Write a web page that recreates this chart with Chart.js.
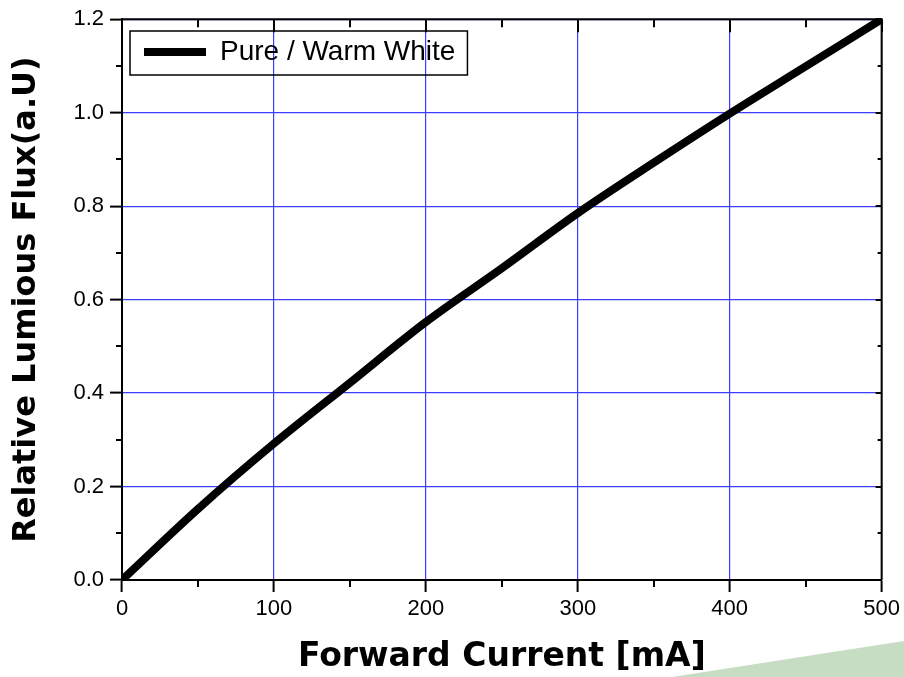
<!DOCTYPE html>
<html>
<head>
<meta charset="utf-8">
<script src="https://cdn.jsdelivr.net/npm/chart.js@4.4.1/dist/chart.umd.min.js"></script>
<style>
  html, body { margin: 0; padding: 0; background: #fff; }
  #wrap { width: 904px; height: 677px; position: relative; }
</style>
</head>
<body>
<div id="wrap"><canvas id="chartFlux"></canvas></div>
<script>
// Datos
const corriente = [0, 50, 100, 150, 200, 250, 300, 350, 400, 450, 500];
const flujo = [0, 0.152, 0.292, 0.422, 0.552, 0.667, 0.785, 0.893, 0.998, 1.099, 1.2];
const serieNombre = 'Pure / Warm White';
const tituloX = 'Forward Current [mA]';
const tituloY = 'Relative Lumious Flux(a.U)';

const azulGrid = 'rgb(60,60,255)';

// Marco superior/derecho, ticks menores y caja de la leyenda
const marcoPlugin = {
    id: 'marco',
    beforeDraw(chart) {
        // adorno verde de la esquina
        const ctx = chart.ctx;
        ctx.save();
        ctx.fillStyle = '#c6dcc3';
        ctx.beginPath();
        ctx.moveTo(672, 677);
        ctx.lineTo(904, 641);
        ctx.lineTo(904, 677);
        ctx.closePath();
        ctx.fill();
        ctx.restore();
    },
    afterDraw(chart) {
        const { ctx, chartArea: a, scales: { x, y } } = chart;
        ctx.save();
        ctx.strokeStyle = '#000';
        ctx.lineWidth = 2;
        ctx.beginPath();
        ctx.moveTo(a.left, a.top);
        ctx.lineTo(a.right, a.top);
        ctx.lineTo(a.right, a.bottom);
        ctx.stroke();

        ctx.beginPath();
        for (let v = 0; v <= 500; v += 50) {
            const px = Math.round(x.getPixelForValue(v));
            const mayor = v % 100 === 0;
            ctx.moveTo(px, a.top);
            ctx.lineTo(px, a.top + (mayor ? 13 : 8));
            if (!mayor) {
                ctx.moveTo(px, a.bottom);
                ctx.lineTo(px, a.bottom + 7);
            }
        }
        for (let i = 0; i <= 12; i++) {
            const py = Math.round(y.getPixelForValue(i / 10));
            const mayor = i % 2 === 0;
            if (!mayor) {
                ctx.moveTo(a.left, py);
                ctx.lineTo(a.left - 6, py);
            }
            ctx.moveTo(a.right, py);
            ctx.lineTo(a.right - (mayor ? 6 : 4), py);
        }
        ctx.stroke();

        const hb = chart.legend.legendHitBoxes[0];
        if (hb) {
            ctx.lineWidth = 1.5;
            ctx.strokeRect(hb.left - 14, hb.top - 7, hb.width + 26, hb.height + 16);
        }
        ctx.restore();
    }
};

Chart.defaults.font.family = '"Liberation Sans", Arial, sans-serif';
Chart.defaults.color = '#000';

const ctx = document.getElementById('chartFlux').getContext('2d');
new Chart(ctx, {
    type: 'line',
    data: {
        datasets: [{
            label: serieNombre,
            data: corriente.map((c, i) => ({ x: c, y: flujo[i] })),
            borderColor: '#000',
            backgroundColor: '#000',
            borderWidth: 8,
            borderCapStyle: 'round',
            borderJoinStyle: 'round',
            pointRadius: 0,
            cubicInterpolationMode: 'monotone'
        }]
    },
    options: {
        responsive: true,
        maintainAspectRatio: false,
        animation: false,
        layout: { padding: { top: 16, right: 20, left: 0, bottom: 0 } },
        scales: {
            x: {
                type: 'linear',
                min: 0,
                max: 500,
                ticks: { stepSize: 100, font: { size: 22 }, padding: 4, maxRotation: 0 },
                grid: { color: azulGrid, lineWidth: 1.2, tickColor: '#000', tickLength: 12, tickWidth: 2 },
                border: { color: '#000', width: 2 },
                title: {
                    display: true,
                    text: tituloX,
                    font: { family: '"DejaVu Sans", Verdana, sans-serif', size: 33, weight: 'bold' },
                    padding: { top: 0, bottom: 0 }
                },
                afterFit(scale) { scale.height = 97; }
            },
            y: {
                min: 0,
                max: 1.2,
                ticks: {
                    stepSize: 0.2,
                    font: { size: 22 },
                    padding: 6,
                    callback: v => v.toFixed(1)
                },
                grid: { color: azulGrid, lineWidth: 1.2, tickColor: '#000', tickLength: 12, tickWidth: 2 },
                border: { color: '#000', width: 2 },
                title: {
                    display: true,
                    text: tituloY,
                    font: { family: '"DejaVu Sans", Verdana, sans-serif', size: 32, weight: 'bold' },
                    padding: { top: 7, bottom: 0 }
                },
                afterFit(scale) { scale.width = 122; }
            }
        },
        plugins: {
            legend: {
                position: 'chartArea',
                align: 'start',
                // título vacío: solo empuja la leyenda hacia abajo
                title: { display: true, text: '', font: { size: 1, lineHeight: 1 }, padding: { top: 15, bottom: 0 } },
                labels: {
                    usePointStyle: true,
                    pointStyle: 'line',
                    pointStyleWidth: 62,
                    padding: 22,
                    font: { size: 28 },
                    color: '#000'
                }
            },
            tooltip: { enabled: false }
        }
    },
    plugins: [marcoPlugin]
});
</script>
</body>
</html>
